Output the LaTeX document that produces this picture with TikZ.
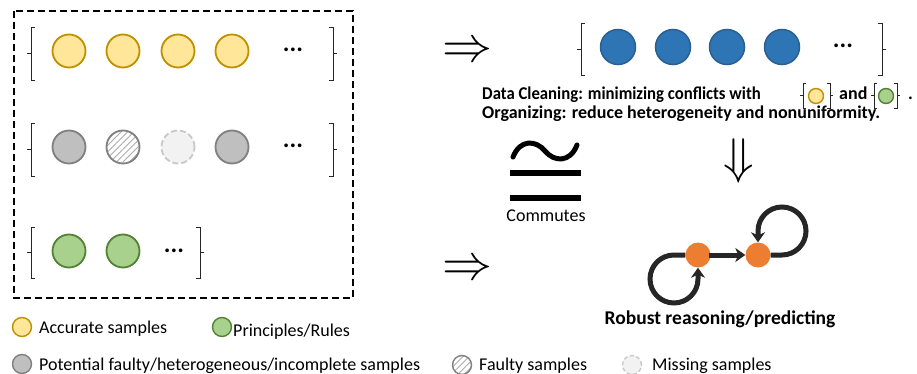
\documentclass[tikz,border=0pt]{standalone}
\usepackage{fontspec}
\setmainfont{Carlito}
\usepackage{graphicx}
\usetikzlibrary{arrows.meta,patterns.meta}
\definecolor{yfill}{HTML}{FFE699}
\definecolor{ydraw}{HTML}{BF9000}
\definecolor{gfill}{HTML}{A9D18E}
\definecolor{gdraw}{HTML}{548235}
\definecolor{sfill}{HTML}{BFBFBF}
\definecolor{sdraw}{HTML}{808080}
\definecolor{mfill}{HTML}{F2F2F2}
\definecolor{mdraw}{HTML}{C8C8C8}
\definecolor{bfill}{HTML}{2E75B6}
\definecolor{bdraw}{HTML}{2A5F8F}
\definecolor{ofill}{HTML}{ED7D31}
\definecolor{loopc}{HTML}{262626}
\newcommand\myLB[4]{\draw[brk] (#1+#4,#2) -- (#1,#2) -- (#1,#3) -- (#1+#4,#3); \draw[brk] (#1,{(#2+#3)/2}) -- ++(-#4,0);}
\newcommand\myRB[4]{\draw[brk] (#1-#4,#2) -- (#1,#2) -- (#1,#3) -- (#1-#4,#3); \draw[brk] (#1,{(#2+#3)/2}) -- ++(#4,0);}
\begin{document}
\begin{tikzpicture}[x=1pt,y=-1pt,
  dot/.style={circle,inner sep=0pt,minimum size=33pt,line width=1.8pt},
  ys/.style={dot,fill=yfill,draw=ydraw},
  gs/.style={dot,fill=gfill,draw=gdraw},
  ss/.style={dot,fill=sfill,draw=sdraw},
  hs/.style={dot,draw=sdraw,pattern={Lines[angle=45,distance=4.5pt,line width=0.9pt]},pattern color=gray!65},
  ms/.style={dot,fill=mfill,draw=mdraw,dash pattern=on 6pt off 3pt},
  bs/.style={dot,minimum size=35pt,line width=1.5pt,fill=bfill,draw=bdraw},
  leg/.style={minimum size=19pt,line width=1.4pt},
  tiny/.style={minimum size=15pt,line width=1.4pt},
  brk/.style={line width=0.9pt,draw=black!85},
  ell/.style={font=\fontsize{25}{25}\selectfont\bfseries,inner sep=0pt,anchor=base},
  txt/.style={font=\fontsize{18}{18}\selectfont,inner sep=0pt,anchor=base west},
  btxt/.style={font=\fontsize{18}{18}\selectfont\bfseries,inner sep=0pt,anchor=base west},
  bigsym/.style={inner sep=0pt},
  onode/.style={circle,inner sep=0pt,minimum size=25pt,fill=ofill},
  netline/.style={line width=5pt,draw=loopc,-{Stealth[length=10pt,width=14pt,inset=3pt]}}
]
\useasboundingbox[fill=white] (0,0) rectangle (917,374);
% dashed container
\draw[line width=1.8pt,dash pattern=on 7pt off 4pt] (14,11) rectangle (353,298);
% row 1: accurate samples
\myLB{31}{27}{80}{4}
\myRB{333}{27}{80}{4}
\node[ys] (a1) at (69,51) {};
\node[ys] (a2) at (123,51) {};
\node[ys] (a3) at (178,51) {};
\node[ys] (a4) at (232,51) {};
\node[ell] (ad) at (293,52) {...};
% row 2: potential faulty samples
\myLB{31}{123}{176}{4}
\myRB{333}{123}{176}{4}
\node[ss] (p1) at (69,147) {};
\node[hs] (p2) at (123,147) {};
\node[ms] (p3) at (178,147) {};
\node[ss] (p4) at (232,147) {};
\node[ell] (pd) at (293,148) {...};
% row 3: principles
\myLB{31}{227}{278}{4}
\myRB{200}{227}{278}{4}
\node[gs] (g1) at (69,251) {};
\node[gs] (g2) at (123,251) {};
\node[ell] (gd) at (174,252) {...};
% implication arrows
\node[bigsym] (imp1) at (467,52) {\scalebox{5}{$\Rightarrow$}};
\node[bigsym] (imp2) at (467,270) {\scalebox{5}{$\Rightarrow$}};
\node[bigsym] (imp3) at (739,161) {\scalebox{5}{$\Downarrow$}};
% cleaned samples
\myLB{581}{23}{75}{4}
\myRB{882}{23}{75}{4}
\node[bs] (c1) at (618,47) {};
\node[bs] (c2) at (673,47) {};
\node[bs] (c3) at (727,47) {};
\node[bs] (c4) at (782,47) {};
\node[ell] (cd) at (843,48) {...};
% cleaning text
\node[btxt] (t1) at (482,100) {\scalebox{0.93}[1]{Data Cleaning: minimizing conflicts with}};
\myLB{803}{83}{108}{3}
\myRB{830}{83}{108}{3}
\node[ys,tiny] (ty) at (816,96) {};
\node[btxt] (tand) at (839,100) {and};
\myLB{874}{83}{108}{3}
\myRB{897}{83}{108}{3}
\node[gs,tiny] (tg) at (886,96) {};
\node[btxt] (tdot) at (908,100) {.};
\node[btxt] (t2) at (482,119) {Organizing: reduce heterogeneity and nonuniformity.};
% congruence symbol
\draw[line width=5pt,line cap=round] (513,157) .. controls (520,139) and (536,140) .. (545,151) .. controls (554,162) and (570,163) .. (577,145);
\draw[line width=6pt] (510,173) -- (581,173);
\draw[line width=6pt] (510,198) -- (581,198);
\node[font=\fontsize{18}{18}\selectfont,inner sep=0pt,anchor=base] (comm) at (546,221) {Commutes};
% reasoning graph
\node[onode] (o1) at (698,255) {};
\node[onode] (o2) at (758,255) {};
\draw[netline,shorten <=-2pt] (o1) -- (o2);
\draw[netline] (o1.west) -- (674,255) arc[start angle=-90,end angle=-360,radius=24] -- (o1.south);
\draw[netline] (o2.east) -- (782,255) arc[start angle=90,end angle=-180,radius=24] -- (o2.north);
\node[font=\fontsize{19.5}{20}\selectfont\bfseries,inner sep=0pt,anchor=base] (rob) at (720,324) {Robust reasoning/predicting};
% legend
\node[ys,leg] (ly) at (22,327) {};
\node[txt] (lyt) at (39,333) {Accurate samples};
\node[gs,leg] (lg) at (222,327) {};
\node[txt] (lgt) at (233,336) {Principles/Rules};
\node[ss,leg] (ls) at (22,364) {};
\node[txt] (lst) at (39,370) {Potential faulty/heterogeneous/incomplete samples};
\node[hs,leg] (lh) at (462,365) {};
\node[txt] (lht) at (479,370) {Faulty samples};
\node[ms,leg,dash pattern=on 4pt off 2.5pt] (lm) at (632,365) {};
\node[txt] (lmt) at (652,370) {Missing samples};
\end{tikzpicture}
\end{document}
